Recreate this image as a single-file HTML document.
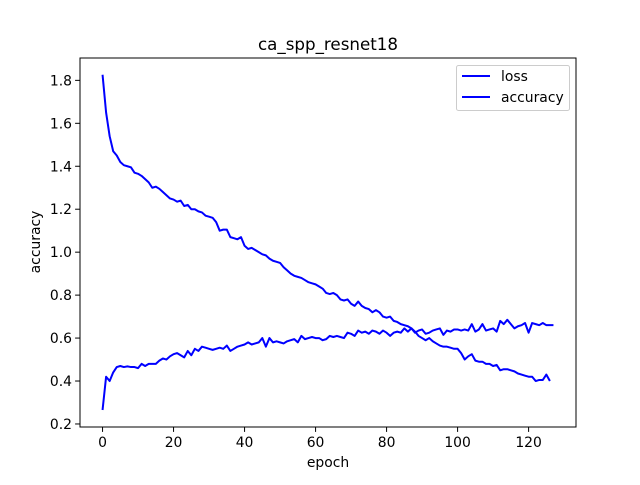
<!DOCTYPE html>
<html><head><meta charset="utf-8"><style>
body{margin:0;background:#fff}
svg text{font-family:"DejaVu Sans","Liberation Sans",sans-serif;fill:#000}
</style></head><body>
<svg id="c" width="640" height="480"></svg>
<script>
const epochs = Array.from({length:128},(_,i)=>i);
const loss = [1.826,1.65,1.54,1.47,1.45,1.42,1.405,1.40,1.395,1.37,1.365,1.355,1.34,1.325,1.30,1.305,1.295,1.28,1.265,1.25,1.245,1.235,1.24,1.215,1.22,1.20,1.20,1.19,1.185,1.17,1.165,1.16,1.14,1.10,1.105,1.105,1.07,1.065,1.06,1.07,1.03,1.015,1.02,1.01,1.0,0.99,0.985,0.97,0.96,0.955,0.95,0.93,0.915,0.90,0.89,0.885,0.88,0.87,0.86,0.855,0.85,0.84,0.83,0.81,0.805,0.81,0.80,0.78,0.775,0.78,0.76,0.75,0.77,0.75,0.74,0.735,0.72,0.73,0.72,0.70,0.695,0.70,0.68,0.675,0.665,0.66,0.655,0.645,0.63,0.61,0.60,0.59,0.60,0.585,0.575,0.565,0.56,0.56,0.555,0.55,0.55,0.53,0.50,0.515,0.525,0.495,0.49,0.49,0.48,0.48,0.47,0.475,0.45,0.455,0.455,0.45,0.445,0.435,0.43,0.425,0.42,0.42,0.40,0.405,0.405,0.43,0.40];
const accuracy = [0.265,0.42,0.40,0.44,0.465,0.47,0.465,0.468,0.465,0.465,0.46,0.48,0.47,0.48,0.48,0.48,0.495,0.505,0.50,0.515,0.525,0.53,0.52,0.51,0.54,0.52,0.55,0.54,0.56,0.555,0.55,0.545,0.55,0.555,0.55,0.565,0.54,0.55,0.56,0.565,0.57,0.58,0.57,0.575,0.58,0.60,0.56,0.60,0.58,0.585,0.58,0.575,0.585,0.59,0.595,0.58,0.61,0.595,0.60,0.605,0.60,0.60,0.59,0.595,0.61,0.605,0.61,0.605,0.60,0.625,0.62,0.61,0.635,0.625,0.63,0.62,0.635,0.63,0.62,0.635,0.625,0.61,0.625,0.63,0.625,0.645,0.63,0.645,0.625,0.635,0.64,0.62,0.625,0.635,0.64,0.645,0.615,0.635,0.63,0.64,0.64,0.635,0.64,0.635,0.665,0.63,0.64,0.665,0.635,0.64,0.645,0.63,0.68,0.665,0.685,0.665,0.645,0.655,0.66,0.67,0.625,0.67,0.665,0.66,0.67,0.66,0.66,0.66];
const xTicks = [0,20,40,60,80,100,120];
const yTicks = [0.2,0.4,0.6,0.8,1.0,1.2,1.4,1.6,1.8];
const L=80,R=576,T=58,B=427;
const xMin=-6.35,xMax=133.35,yMin=0.1859,yMax=1.9041;
const X=v=>L+(v-xMin)/(xMax-xMin)*(R-L);
const Y=v=>B-(v-yMin)/(yMax-yMin)*(B-T);
const svg=document.getElementById('c');
const NS='http://www.w3.org/2000/svg';
function mk(tag,attrs,parent){const e=document.createElementNS(NS,tag);for(const k in attrs)e.setAttribute(k,attrs[k]);(parent||svg).appendChild(e);return e;}
function series(vals,name){
  const d=vals.map((v,i)=>(i?'L':'M')+X(epochs[i]).toFixed(2)+' '+Y(v).toFixed(2)).join(' ');
  const p=mk('path',{d:d,fill:'none',stroke:'#0000ff','stroke-width':2,'stroke-linejoin':'round'});
  
  
}
series(loss,'loss-line');
series(accuracy,'accuracy-line');
const frame=mk('rect',{x:L,y:T,width:R-L,height:B-T,fill:'none',stroke:'#000','stroke-width':1});


xTicks.forEach(t=>{
  mk('line',{x1:X(t),x2:X(t),y1:B,y2:B+4.9,stroke:'#000','stroke-width':1});
  const tx=mk('text',{x:X(t),y:B+20,'font-size':13.9,'text-anchor':'middle'});tx.textContent=t;
  
  
});
yTicks.forEach(t=>{
  mk('line',{x1:L-4.9,x2:L,y1:Y(t),y2:Y(t),stroke:'#000','stroke-width':1});
  const tx=mk('text',{x:L-8,y:Y(t)+5,'font-size':13.9,'text-anchor':'end'});tx.textContent=t.toFixed(1);
  
  
});
</script>
<svg width="640" height="480" style="position:absolute;left:0;top:0">
<text x="328" y="50" font-size="16.7" text-anchor="middle">ca_spp_resnet18</text>
<text x="328" y="467" font-size="13.9" text-anchor="middle">epoch</text>
<text x="0" y="0" font-size="13.9" text-anchor="middle" transform="translate(40,242) rotate(-90)">accuracy</text>
<g>
<rect x="456.5" y="65.5" width="113" height="45" rx="2" fill="#fff" fill-opacity="0.8" stroke="#ccc" stroke-width="1"/>
<line x1="462" x2="490" y1="76" y2="76" stroke="#0000ff" stroke-width="2"/>
<text x="501" y="81" font-size="13.9">loss</text>
<line x1="462" x2="490" y1="97" y2="97" stroke="#0000ff" stroke-width="2"/>
<text x="501" y="102" font-size="13.9">accuracy</text>
</g>
</svg>
</body></html>
